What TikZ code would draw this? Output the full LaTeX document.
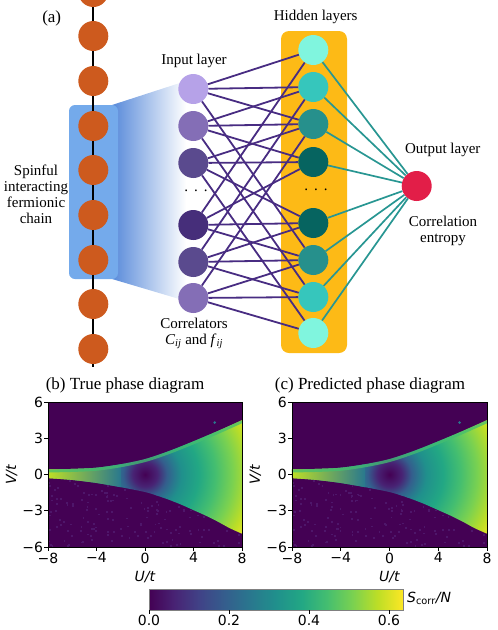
\documentclass[tikz,border=0pt]{standalone}
\usepackage{fontspec}
\setmainfont{Liberation Serif}
\newfontfamily\plotfont{DejaVu Sans}

\definecolor{siteorange}{RGB}{205,90,30}
\definecolor{chainblue}{RGB}{116,170,235}
\definecolor{fadeblue}{RGB}{88,138,218}
\definecolor{layerorange}{RGB}{253,186,22}
\definecolor{inA}{RGB}{182,162,232}
\definecolor{inB}{RGB}{132,110,182}
\definecolor{inC}{RGB}{90,74,142}
\definecolor{inD}{RGB}{70,46,122}
\definecolor{hidA}{RGB}{128,245,222}
\definecolor{hidB}{RGB}{54,198,188}
\definecolor{hidC}{RGB}{38,144,140}
\definecolor{hidD}{RGB}{6,100,96}
\definecolor{outred}{RGB}{226,30,72}
\definecolor{wireviolet}{RGB}{72,44,130}
\definecolor{wireteal}{RGB}{40,150,146}
\definecolor{speckle}{RGB}{78,22,106}
% viridis
\definecolor{v0}{RGB}{68,1,84}
\definecolor{v1}{RGB}{72,35,116}
\definecolor{v2}{RGB}{64,67,135}
\definecolor{v3}{RGB}{52,94,141}
\definecolor{v4}{RGB}{41,120,142}
\definecolor{v5}{RGB}{32,144,140}
\definecolor{v6}{RGB}{34,167,132}
\definecolor{v7}{RGB}{68,190,112}
\definecolor{v8}{RGB}{121,209,81}
\definecolor{v9}{RGB}{189,222,38}
\definecolor{v10}{RGB}{253,231,37}

\pgfdeclarehorizontalshading{viridisbar}{100bp}{color(0bp)=(v0); color(25bp)=(v0);
  color(30bp)=(v1); color(35bp)=(v2); color(40bp)=(v3); color(45bp)=(v4);
  color(50bp)=(v5); color(55bp)=(v6); color(60bp)=(v7); color(65bp)=(v8);
  color(70bp)=(v9); color(75bp)=(v10); color(100bp)=(v10)}
\pgfdeclareradialshading{phasefill}{\pgfpoint{0bp}{0bp}}{color(0bp)=(v0);
  color(2.5bp)=(v1); color(4.5bp)=(v3); color(6bp)=(v4); color(7.5bp)=(v5);
  color(11bp)=(v6); color(14.5bp)=(v7); color(18bp)=(v8); color(21.5bp)=(v9);
  color(25bp)=(v10); color(50bp)=(v10)}

\tikzset{
  site/.style={circle, fill=siteorange, minimum size=30pt, inner sep=0pt},
  neuron/.style={circle, minimum size=30pt, inner sep=0pt},
  chainbox/.style={rectangle, fill=chainblue, rounded corners=6pt, minimum width=49pt, minimum height=174pt},
  layerbox/.style={rectangle, fill=layerorange, rounded corners=8pt, minimum width=66pt, minimum height=322pt},
  chainlink/.style={line width=2pt, black},
  inwire/.style={draw=wireviolet, line width=1.8pt},
  outwire/.style={draw=wireteal, line width=1.7pt},
  netlabel/.style={font=\fontsize{15}{16}\selectfont, align=center, inner sep=0pt},
  paneltitle/.style={font=\fontsize{17}{20}\selectfont, inner sep=0pt},
  ticklabel/.style={font=\plotfont\fontsize{14}{16}\selectfont, inner sep=0pt},
  tickmark/.style={line width=0.6pt},
}

% one phase map, drawn in (U,V) units
\newcommand{\phasemap}{%
  \fill[v0] (-8,-6) rectangle (8,6);
  \pgfmathsetseed{11}
  \foreach \k in {1,...,200}{
    \pgfmathsetmacro{\su}{-8+15.85*rnd}
    \pgfmathsetmacro{\sv}{-6+6*rnd}
    \fill[speckle] (\su,\sv) rectangle ++(0.15,0.15);
  }
  \begin{scope}
    \clip plot[smooth] coordinates {(-8,0.42) (-6,0.46) (-4,0.56) (-2,0.85) (0,1.28) (2,1.95) (4,2.75) (6,3.6) (8,4.5)}
      -- plot[smooth] coordinates {(8,-4.9) (7,-4.45) (6,-3.9) (5,-3.4) (4,-2.95) (3,-2.5) (2,-2.1) (1,-1.75) (0,-1.45) (-2,-1.05) (-4,-0.7) (-6,-0.45) (-8,-0.3)} -- cycle;
    \shade[shading=phasefill] (0,0) circle (10);
    \shade[left color=v9, middle color=v8, right color=v4] (-8,-1.2) rectangle (-2,1.2);
    \draw[v7, line width=3pt, opacity=0.75, yshift=-1.5pt] plot[smooth] coordinates {(-8,0.42) (-6,0.46) (-4,0.56) (-2,0.85) (0,1.28) (2,1.95) (4,2.75) (6,3.6) (8,4.5)};
  \end{scope}
  \fill[v4] (5.75,4.3) circle (0.12);
  \draw[tickmark] (-8,-6) rectangle (8,6);
  \foreach \tu/\tl in {-8/−8,-4/−4,0/0,4/4,8/8}{
    \draw[tickmark] (\tu,-6) -- (\tu,-6.3);
    \node[ticklabel, anchor=north] at (\tu,-6.45) {\tl};
  }
  \foreach \tv/\tl in {-6/−6,-3/−3,0/0,3/3,6/6}{
    \draw[tickmark] (-8,\tv) -- (-8.3,\tv);
    \node[ticklabel, anchor=east] at (-8.4,\tv) {\tl};
  }
  \node[ticklabel] at (0,-8.45) {\textit{U/t}};
  \node[ticklabel, rotate=90] at (-11,0) {\textit{V/t}};
}

\begin{document}
\begin{tikzpicture}[x=1pt, y=-1pt]
\useasboundingbox (0,0) rectangle (498,630);

% (a) chain and network
\shade[left color=fadeblue, right color=white] (112,105) -- (186,81) -- (186,301) -- (112,279) -- cycle;
\node[chainbox] (block) at (93.5,192) {};
\foreach \y [count=\i] in {-8,36,81,126,170,215,260,304,349}
  \node[site] (s\i) at (93.3,\y) {};
\coordinate (chainend) at (93.3,367);
\foreach \i [evaluate=\i as \j using int(\i+1)] in {1,...,8}
  \draw[chainlink] (s\i) -- (s\j);
\draw[chainlink] (s9) -- (chainend);

\node[layerbox] (hidbox) at (314,192) {};
\foreach \y/\c [count=\i] in {89/inA,126/inB,163/inC,225/inD,262/inC,298/inB}
  \node[neuron, fill=\c] (in\i) at (193.3,\y) {};
\foreach \y/\c [count=\i] in {50/hidA,87/hidB,124/hidC,162/hidD,223/hidD,260/hidC,297/hidB,333/hidA}
  \node[neuron, fill=\c] (hid\i) at (313.3,\y) {};
\node[neuron, fill=outred] (out) at (416.7,186) {};

\foreach \i/\hs in {1/{1,2,3,6},2/{2,3,4,7},3/{3,4,5,8},4/{4,5,6,1},5/{5,6,7,2},6/{6,7,8,3}}
  \foreach \h in \hs
    \draw[inwire] (in\i) -- (hid\h);
\foreach \h in {1,...,8}
  \draw[outwire] (hid\h) -- (out);

\node[netlabel] (indots) at (196,191) {.\hspace{6pt}.\hspace{6pt}.};
\node[netlabel] (hiddots) at (316,190) {.\hspace{6pt}.\hspace{6pt}.};

\node[paneltitle] at (51.7,18) {(a)};
\node[netlabel] at (36,194) {Spinful\\interacting\\fermionic\\chain};
\node[netlabel] at (194,61) {Input layer};
\node[netlabel] at (194,333.5) {Correlators\\\textit{C}\textsubscript{\textit{ij}} and \textit{f}\textsubscript{\textit{ij}}};
\node[netlabel] at (315.7,17) {Hidden layers};
\node[netlabel] at (442.7,150) {Output layer};
\node[netlabel] at (443,230.5) {Correlation\\entropy};

% (b) and (c) phase diagrams
\node[paneltitle] at (125,385) {(b) True phase diagram};
\node[paneltitle] at (370,385) {(c) Predicted phase diagram};
\begin{scope}[shift={(145,474.5)}, x=12.125pt, y=12.08pt]
  \phasemap
\end{scope}
\begin{scope}[shift={(389.5,474.5)}, x=12.19pt, y=12.08pt]
  \phasemap
\end{scope}

% colour bar
\shade[shading=viridisbar] (149,589) rectangle (403,610);
\draw[gray, line width=0.6pt] (149,589) rectangle (403,610);
\foreach \x/\t in {149/0.0,229/0.2,309/0.4,389/0.6}{
  \draw[tickmark] (\x,610) -- (\x,613.5);
  \node[ticklabel, anchor=north] at (\x,615) {\t};
}
\node[ticklabel, anchor=west] at (407,598) {\textit{S}\textsubscript{corr}\textit{/N}};
\end{tikzpicture}
\end{document}
